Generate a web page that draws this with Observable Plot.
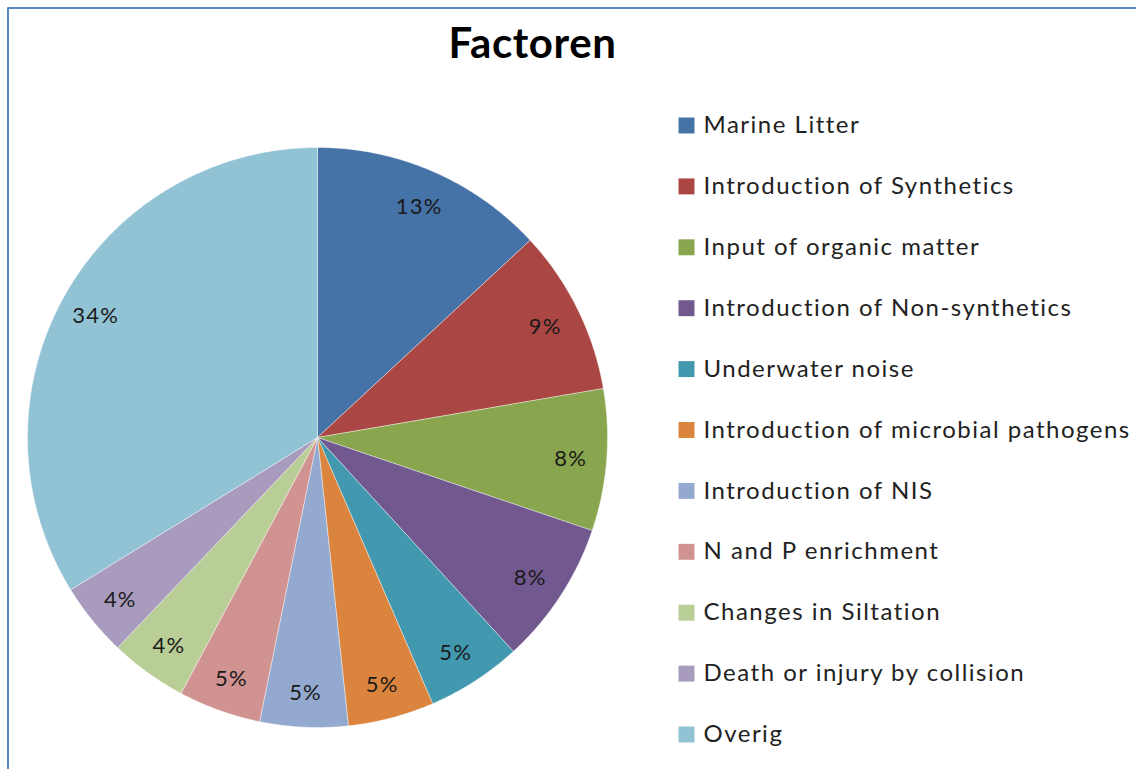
<!DOCTYPE html>
<html>
<head>
<meta charset="utf-8">
<script src="https://cdn.jsdelivr.net/npm/d3@7"></script>
<script src="https://cdn.jsdelivr.net/npm/@observablehq/plot@0.6"></script>
<style>
  html, body { margin: 0; padding: 0; background: #fff; }
  svg { display: block; }
</style>
</head>
<body>
<div id="chart"></div>
<script>
const title = "Factoren";
const categories = [
  "Marine Litter",
  "Introduction of Synthetics",
  "Input of organic matter",
  "Introduction of Non-synthetics",
  "Underwater noise",
  "Introduction of microbial pathogens",
  "Introduction of NIS",
  "N and P enrichment",
  "Changes in Siltation",
  "Death or injury by collision",
  "Overig"
];
const values = [13.1, 9.2, 7.9, 8.0, 5.3, 4.8, 4.9, 4.6, 4.3, 4.1, 33.8];
const colors = ["#4572A7", "#AA4643", "#89A54E", "#71588F", "#4198AF", "#DB843D",
                "#93A9CF", "#D19392", "#B9CD96", "#A99BBD", "#92C3D4"];

const W = 1136, H = 769;
const cx = 317, cy = 437, R = 290, labelR = 254;
const total = d3.sum(values);

// Build slice polygons from the values (angles measured clockwise from 12 o'clock)
const slicePts = [];
const labels = [];
let cum = 0;
categories.forEach((name, i) => {
  const a0 = cum / total * 2 * Math.PI;
  cum += values[i];
  const a1 = cum / total * 2 * Math.PI;
  slicePts.push({name, x: cx, y: cy});
  const n = Math.max(2, Math.ceil((a1 - a0) / (Math.PI / 360)));
  for (let k = 0; k <= n; k++) {
    const a = a0 + (a1 - a0) * k / n;
    slicePts.push({name, x: cx + R * Math.sin(a), y: cy - R * Math.cos(a)});
  }
  slicePts.push({name, x: cx, y: cy});
  const am = (a0 + a1) / 2;
  labels.push({name, x: cx + labelR * Math.sin(am), y: cy - labelR * Math.cos(am),
               text: Math.round(values[i] / total * 100) + "%"});
});

const legendTop = 125, legendStep = 60.9;
const legend = categories.map((name, i) => ({name, i, y: legendTop + i * legendStep}));

const font = "Lato, 'Open Sans', sans-serif";

const plot = Plot.plot({
  width: W,
  height: H,
  margin: 0,
  style: {fontFamily: font, background: "#fff", overflow: "visible"},
  x: {domain: [0, W], range: [0, W], axis: null},
  y: {domain: [0, H], range: [0, H], axis: null},
  color: {domain: categories, range: colors},
  marks: [
    Plot.line(slicePts, {x: "x", y: "y", z: "name", fill: "name", stroke: "white",
                         strokeWidth: 0.8, strokeOpacity: 0.5, curve: "linear"}),
    Plot.text(labels, {x: "x", y: "y", dy: 2, text: "text", fontSize: 22, fill: "#1a1a1a"}),
    Plot.text([title], {x: 532, y: 44, text: d => d, fontSize: 42, fontWeight: "bold", fill: "#000"}),
    Plot.dot(legend, {x: 686, y: "y", fill: "name", symbol: "square", r: 9, stroke: null}),
    Plot.text(legend, {x: 703, y: "y", text: "name", textAnchor: "start", fontSize: 24, fill: "#222"}),
    Plot.ruleY([7.5], {x1: 7.5, x2: W, stroke: "#5B87C6", strokeWidth: 2}),
    Plot.ruleX([7.5], {y1: 7.5, y2: H, stroke: "#5B87C6", strokeWidth: 2})
  ]
});
const textGroups = plot.querySelectorAll('g[aria-label="text"]');
const spacing = ["1.2px", "0.6px", "1.5px"];
textGroups.forEach((g, i) => g.setAttribute("letter-spacing", spacing[i] || "0"));
document.getElementById("chart").append(plot);
</script>
</body>
</html>
